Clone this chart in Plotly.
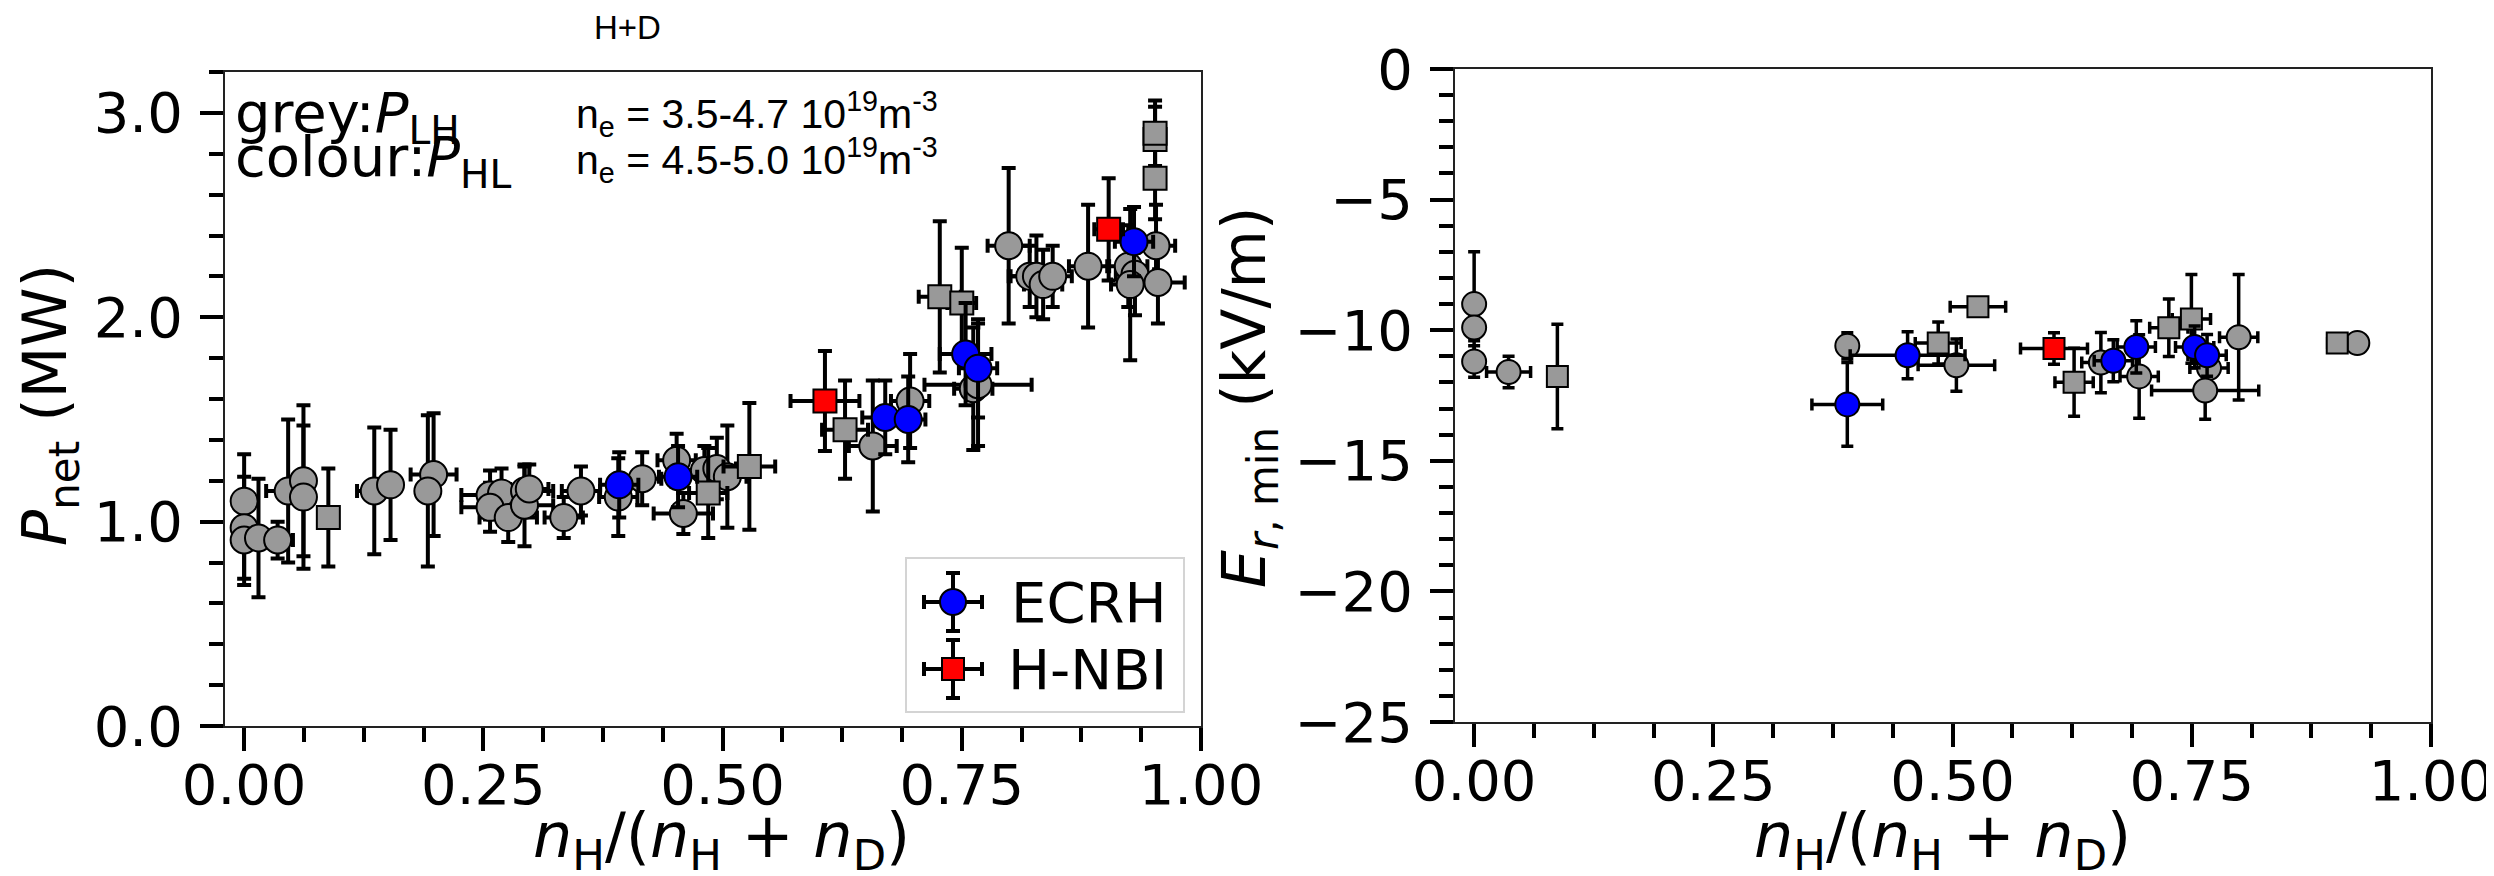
import plotly.graph_objects as go

# ---------------- data: left panel (P_net vs H fraction) ----------------
lh_ecrh_x = [0.000, 0.000, 0.000, 0.015, 0.035, 0.046, 0.062, 0.062, 0.136, 0.153, 0.198, 0.192,
             0.257, 0.269, 0.293, 0.257, 0.276, 0.293, 0.298, 0.334, 0.352, 0.391, 0.416, 0.452,
             0.459, 0.481, 0.494, 0.505, 0.657, 0.696, 0.762, 0.767, 0.799, 0.821, 0.828, 0.835,
             0.845, 0.882, 0.924, 0.931, 0.926, 0.953, 0.955]
lh_ecrh_y = [1.10, 0.97, 0.91, 0.92, 0.91, 1.15, 1.20, 1.12, 1.15, 1.18, 1.23, 1.15,
             1.13, 1.14, 1.15, 1.07, 1.02, 1.08, 1.16, 1.02, 1.15, 1.12, 1.21, 1.30,
             1.04, 1.25, 1.26, 1.22, 1.37, 1.59, 1.65, 1.67, 2.35, 2.20, 2.20, 2.16,
             2.20, 2.25, 2.25, 2.21, 2.16, 2.35, 2.17]
lh_ecrh_yerr = [0.23, 0.25, 0.22, 0.29, 0.09, 0.35, 0.37, 0.35, 0.31, 0.27, 0.30, 0.37,
                0.12, 0.12, 0.12, 0.12, 0.12, 0.20, 0.12, 0.10, 0.12, 0.19, 0.13, 0.13,
                0.10, 0.12, 0.15, 0.25, 0.32, 0.23, 0.30, 0.30, 0.38, 0.15, 0.20, 0.17,
                0.15, 0.30, 0.20, 0.20, 0.37, 0.20, 0.20]
lh_ecrh_xerr = [0.005, 0.005, 0.005, 0.005, 0.016, 0.023, 0.010, 0.010, 0.018, 0.010, 0.024, 0.010,
                0.030, 0.020, 0.030, 0.030, 0.030, 0.030, 0.020, 0.020, 0.020, 0.020, 0.020, 0.020,
                0.031, 0.020, 0.020, 0.020, 0.025, 0.020, 0.020, 0.056, 0.022, 0.020, 0.029, 0.020,
                0.020, 0.020, 0.020, 0.020, 0.020, 0.020, 0.028]

lh_nbi_x = [0.088, 0.485, 0.528, 0.628, 0.727, 0.750, 0.952, 0.952, 0.952]
lh_nbi_y = [1.02, 1.14, 1.27, 1.45, 2.10, 2.07, 2.68, 2.87, 2.90]
lh_nbi_yerr = [0.24, 0.22, 0.31, 0.24, 0.37, 0.27, 0.20, 0.16, 0.16]
lh_nbi_xerr = [0.010, 0.020, 0.027, 0.024, 0.022, 0.015, 0.010, 0.010, 0.010]

hl_ecrh_x = [0.392, 0.4535, 0.670, 0.694, 0.754, 0.767, 0.930]
hl_ecrh_y = [1.18, 1.22, 1.51, 1.50, 1.82, 1.75, 2.37]
hl_ecrh_yerr = [0.16, 0.15, 0.18, 0.21, 0.25, 0.24, 0.17]
hl_ecrh_xerr = [0.020, 0.020, 0.024, 0.018, 0.027, 0.020, 0.020]

hl_nbi_x = [0.607, 0.9035]
hl_nbi_y = [1.59, 2.43]
hl_nbi_yerr = [0.245, 0.25]
hl_nbi_xerr = [0.036, 0.015]

# ---------------- data: right panel (Er,min vs H fraction) ----------------
er_grey_c_x = [0.000, 0.000, 0.000, 0.036, 0.390, 0.504, 0.655, 0.695, 0.768, 0.764, 0.799, 0.923]
er_grey_c_y = [-9.0, -9.9, -11.2, -11.6, -10.6, -11.34, -11.24, -11.77, -11.45, -12.31, -10.27, -10.49]
er_grey_c_yerr = [2.0, 0.5, 0.6, 0.6, 0.5, 1.0, 1.15, 1.6, 0.8, 1.1, 2.4, 0.2]
er_grey_c_xerr = [0.005, 0.005, 0.005, 0.023, 0.010, 0.040, 0.020, 0.020, 0.020, 0.056, 0.020, 0.010]

er_grey_s_x = [0.087, 0.485, 0.5265, 0.627, 0.726, 0.7496, 0.902]
er_grey_s_y = [-11.77, -10.49, -9.10, -11.99, -9.91, -9.57, -10.49]
er_grey_s_yerr = [2.0, 0.8, 0.3, 1.3, 1.1, 1.7, 0.2]
er_grey_s_xerr = [0.005, 0.024, 0.029, 0.020, 0.020, 0.020, 0.010]

er_blue_x = [0.390, 0.453, 0.668, 0.692, 0.753, 0.766]
er_blue_y = [-12.84, -10.96, -11.17, -10.64, -10.64, -10.96]
er_blue_yerr = [1.6, 0.9, 0.8, 1.0, 0.8, 0.8]
er_blue_xerr = [0.037, 0.060, 0.020, 0.020, 0.020, 0.020]

er_red_x = [0.606]
er_red_y = [-10.70]
er_red_yerr = [0.6]
er_red_xerr = [0.035]

x_tickvals = [0, 0.25, 0.5, 0.75, 1.0]
x_ticktext = ["0.00", "0.25", "0.50", "0.75", "1.00"]
p_tickvals = [0, 1, 2, 3]
p_ticktext = ["0.0", "1.0", "2.0", "3.0"]
e_tickvals = [0, -5, -10, -15, -20, -25]
e_ticktext = ["0", "\u22125", "\u221210", "\u221215", "\u221220", "\u221225"]

# ---------------- figure ----------------
W, H = 2494, 876
def px(x):
    return x / W
def py(y):
    return 1 - y / H

GREY = "#999999"
FONT = "DejaVu Sans"

fig = go.Figure()

def add(xs, ys, xe, ye, symbol, color, size, xa, ya, eth=4, ew=7):
    fig.add_trace(go.Scatter(
        x=xs, y=ys, mode="markers", xaxis=xa, yaxis=ya, showlegend=False,
        marker=dict(symbol=symbol, color=color, size=size, line=dict(color="black", width=2)),
        error_x=dict(type="data", array=xe, visible=True, thickness=eth, width=ew, color="black"),
        error_y=dict(type="data", array=ye, visible=True, thickness=eth, width=ew, color="black"),
    ))

# left panel
add(lh_ecrh_x, lh_ecrh_y, lh_ecrh_xerr, lh_ecrh_yerr, "circle", GREY, 27, "x", "y")
add(lh_nbi_x, lh_nbi_y, lh_nbi_xerr, lh_nbi_yerr, "square", GREY, 23, "x", "y")
add(hl_ecrh_x, hl_ecrh_y, hl_ecrh_xerr, hl_ecrh_yerr, "circle", "#0000ff", 27, "x", "y")
add(hl_nbi_x, hl_nbi_y, hl_nbi_xerr, hl_nbi_yerr, "square", "#ff0000", 23, "x", "y")

# right panel
add(er_grey_c_x, er_grey_c_y, er_grey_c_xerr, er_grey_c_yerr, "circle", GREY, 24, "x2", "y2", 3.5, 6)
add(er_grey_s_x, er_grey_s_y, er_grey_s_xerr, er_grey_s_yerr, "square", GREY, 21, "x2", "y2", 3.5, 6)
add(er_blue_x, er_blue_y, er_blue_xerr, er_blue_yerr, "circle", "#0000ff", 24, "x2", "y2", 3.5, 6)
add(er_red_x, er_red_y, er_red_xerr, er_red_yerr, "square", "#ff0000", 21, "x2", "y2", 3.5, 6)

tickfont = dict(family=FONT, size=56, color="black")
common = dict(showline=True, linewidth=2, linecolor="#222", mirror=True, showgrid=False,
              zeroline=False, ticks="outside", ticklen=23, tickwidth=3.5, tickcolor="black",
              tickfont=tickfont, ticklabelstandoff=6, automargin=False)

xaxis_common = dict(common, range=[-0.02, 1.0], tickmode="array", tickvals=x_tickvals, ticktext=x_ticktext,
                    ticklabelstandoff=-14,
                    minor=dict(ticks="outside", dtick=0.0625, tick0=0, ticklen=14, tickwidth=3.5,
                               tickcolor="black", showgrid=False))

fig.update_layout(
    width=W, height=H,
    margin=dict(l=0, r=0, t=0, b=0, autoexpand=False),
    paper_bgcolor="white", plot_bgcolor="white",
    font=dict(family=FONT, color="black"),
    xaxis=dict(xaxis_common, domain=[px(217), px(1193)], anchor="y"),
    yaxis=dict(common, domain=[py(718), py(64)], anchor="x", range=[0, 3.2], tickmode="array",
               tickvals=p_tickvals, ticktext=p_ticktext,
               minor=dict(ticks="outside", dtick=0.2, tick0=0, ticklen=14, tickwidth=3.5,
                          tickcolor="black", showgrid=False)),
    xaxis2=dict(xaxis_common, domain=[px(1447), px(2423)], anchor="y2"),
    yaxis2=dict(common, domain=[py(714), py(61)], anchor="x2", range=[-25, 0], tickmode="array",
                tickvals=e_tickvals, ticktext=e_ticktext,
                minor=dict(ticks="outside", dtick=1, tick0=0, ticklen=14, tickwidth=3.5,
                           tickcolor="black", showgrid=False)),
)

ann = []
def text(x, y, s, size, family=FONT, xanchor="left", yanchor="middle", angle=0):
    ann.append(dict(x=px(x), y=py(y), xref="paper", yref="paper", text=s, showarrow=False,
                    xanchor=xanchor, yanchor=yanchor, textangle=angle,
                    font=dict(family=family, size=size, color="black")))

# titles & axis labels
text(619, 19, "H+D", 33, family="Liberation Sans", xanchor="center")
xtitle = "<i>n</i><sub>H</sub>/(<i>n</i><sub>H</sub> + <i>n</i><sub>D</sub>)"
text(713, 831, xtitle, 62, xanchor="center")
text(1934, 831, xtitle, 62, xanchor="center")
text(41, 397, "<i>P</i><sub>net</sub> (MW)", 60, xanchor="center", angle=-90)
text(1240, 390, "<i>E</i><sub><i>r</i>, min</sub> (kV/m)", 60, xanchor="center", angle=-90)

# in-plot annotations
text(225, 109, "grey:<i>P</i><sub>LH</sub>", 56)
text(225, 152, "colour:<i>P</i><sub>HL</sub>", 56)
text(566, 106, "n<sub>e</sub> = 3.5-4.7 10<sup>19</sup>m<sup>-3</sup>", 41, family="Liberation Sans")
text(566, 152, "n<sub>e</sub> = 4.5-5.0 10<sup>19</sup>m<sup>-3</sup>", 41, family="Liberation Sans")

# legend text
text(1001, 594, "ECRH", 56)
text(998, 661, "H-NBI", 56)
fig.update_layout(annotations=ann)

# legend box and keys (drawn as shapes in paper space)
shapes = []
def rect(x0, y0, x1, y1, line, lw, fill):
    shapes.append(dict(type="rect", xref="paper", yref="paper", x0=px(x0), x1=px(x1),
                       y0=py(y1), y1=py(y0), line=dict(color=line, width=lw), fillcolor=fill,
                       layer="above"))
def line(x0, y0, x1, y1, lw=4):
    shapes.append(dict(type="line", xref="paper", yref="paper", x0=px(x0), x1=px(x1),
                       y0=py(y0), y1=py(y1), line=dict(color="black", width=lw), layer="above"))
def circle(cx, cy, r, fill):
    shapes.append(dict(type="circle", xref="paper", yref="paper", x0=px(cx - r), x1=px(cx + r),
                       y0=py(cy + r), y1=py(cy - r), line=dict(color="black", width=2),
                       fillcolor=fill, layer="above"))

rect(898, 550, 1176, 704, "#d4d4d4", 2, "white")
for cy, kind in [(594, "c"), (661, "s")]:
    cx = 945
    line(cx - 29, cy, cx + 29, cy)
    line(cx, cy - 29, cx, cy + 29)
    line(cx - 29, cy - 7, cx - 29, cy + 7)
    line(cx + 29, cy - 7, cx + 29, cy + 7)
    line(cx - 7, cy - 29, cx + 7, cy - 29)
    line(cx - 7, cy + 29, cx + 7, cy + 29)
    if kind == "c":
        circle(cx, cy, 13, "#0000ff")
    else:
        rect(cx - 11, cy - 11, cx + 11, cy + 11, "black", 2, "#ff0000")
fig.update_layout(shapes=shapes)

fig.write_html("out.html")
